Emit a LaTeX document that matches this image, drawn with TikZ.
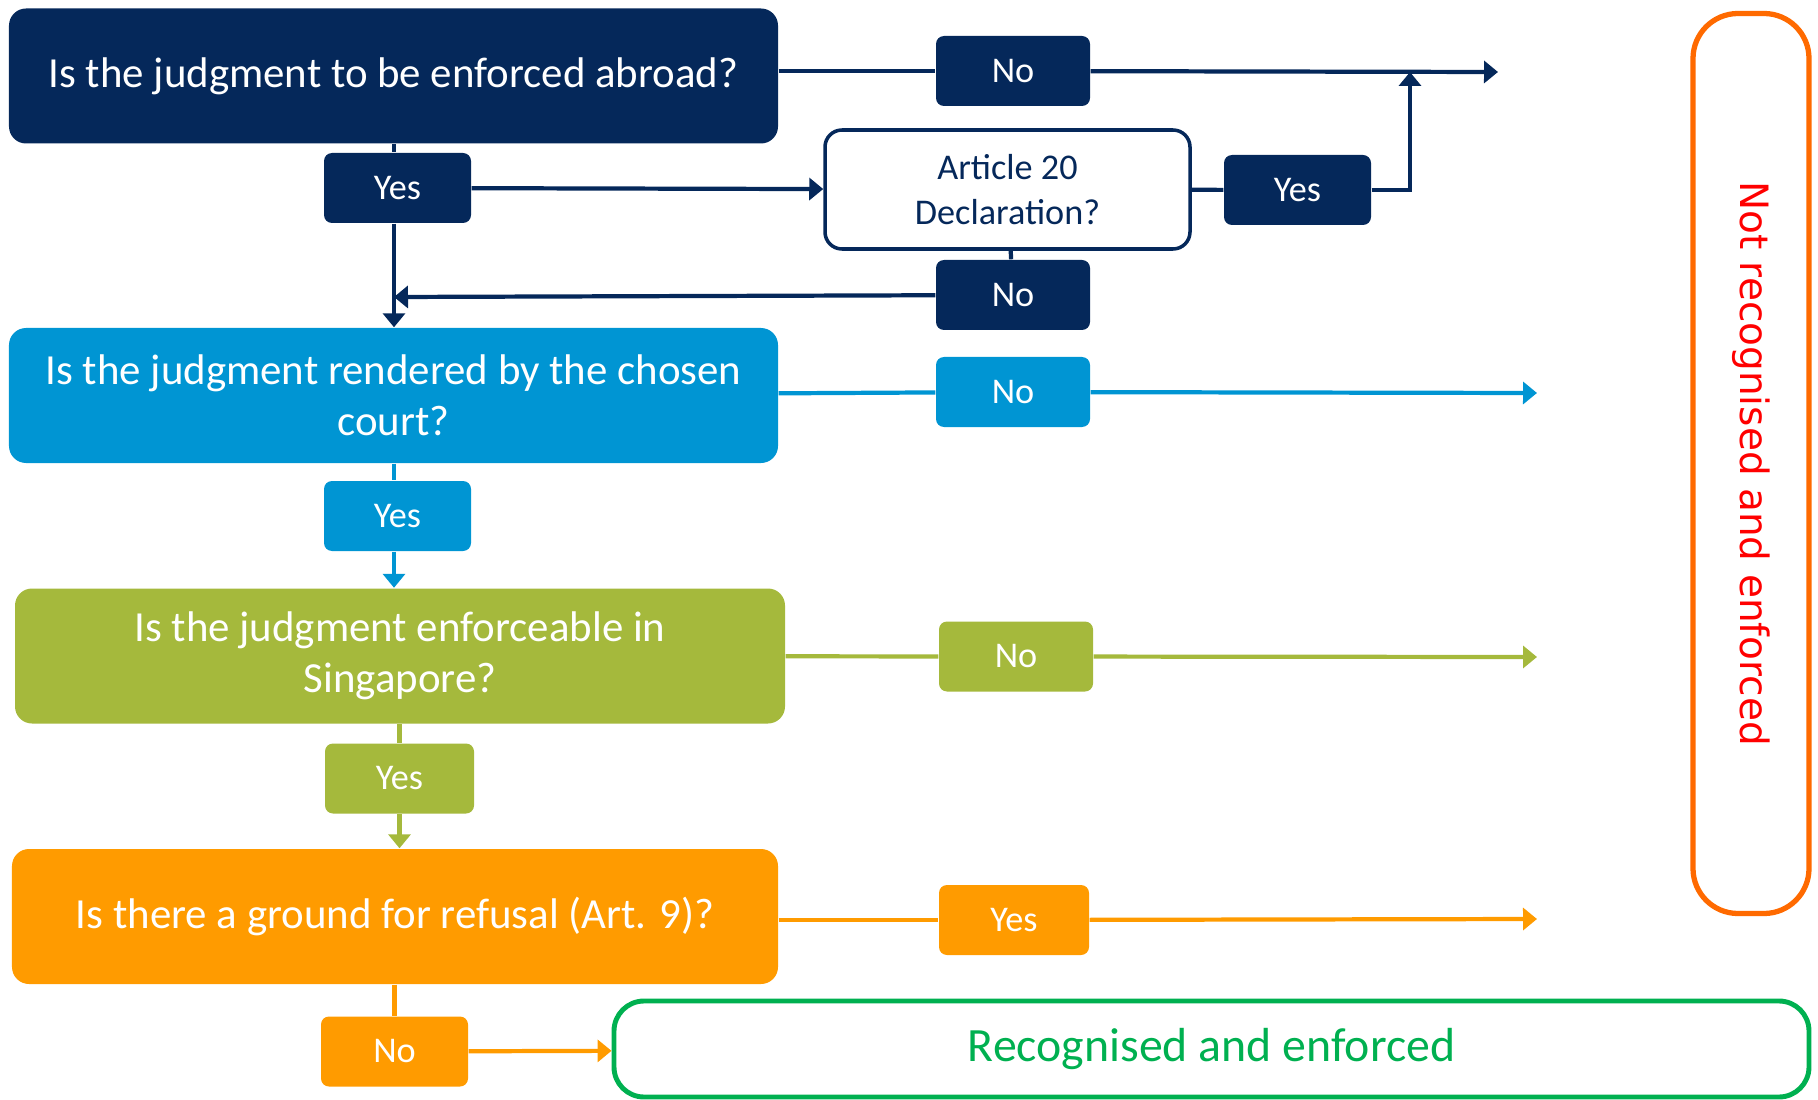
\documentclass[tikz,border=0pt]{standalone}
\usepackage{fontspec}
\setmainfont{Carlito}
\newfontfamily\dejavu{DejaVu Sans}
\usetikzlibrary{arrows.meta}
\definecolor{navy}{HTML}{05285A}
\definecolor{skyblue}{HTML}{0095D3}
\definecolor{olive}{HTML}{A5B93C}
\definecolor{amber}{HTML}{FF9B00}
\definecolor{redorange}{HTML}{FF6A00}
\definecolor{okgreen}{HTML}{00B050}
\tikzset{
  question/.style={rounded corners=0.17cm, minimum width=7.69cm, minimum height=1.35cm,
    inner sep=0pt, align=center, text=white, font=\fontsize{12.2}{14.4}\selectfont},
  answer/.style={rounded corners=0.08cm, minimum width=1.47cm, minimum height=0.7cm,
    inner sep=0pt, text=white, font=\fontsize{10.3}{12}\selectfont},
  flow/.style={line width=1.2pt, -{Triangle[length=0.14cm,width=0.22cm]}},
  link/.style={line width=1.2pt},
}
\begin{document}
\begin{tikzpicture}
    \useasboundingbox (0,0) rectangle (18.18,-11);

    \node[question, fill=navy] (abroad) at (3.935,-0.76) {Is the judgment to be enforced abroad?};
    \node[question, fill=skyblue] (chosen) at (3.935,-3.955) {Is the judgment rendered by the chosen\\court?};
    \node[question, fill=olive, minimum width=7.70cm] (enforceable) at (4.00,-6.56) {Is the judgment enforceable in\\Singapore?};
    \node[question, fill=amber, minimum width=7.66cm] (refusal) at (3.95,-9.165) {Is there a ground for refusal (Art. 9)?};

    \node[draw=navy, line width=1pt, rounded corners=0.17cm, minimum width=3.65cm, minimum height=1.19cm,
          align=center, text=navy, font=\fontsize{10.3}{13}\selectfont] (art) at (10.075,-1.895) {Article 20\\Declaration?};

    \node[answer, fill=navy, minimum width=1.54cm] (noabroad) at (10.13,-0.71) {No};
    \node[answer, fill=navy] (yesabroad) at (3.975,-1.88) {Yes};
    \node[answer, fill=navy] (yesart) at (12.975,-1.90) {Yes};
    \node[answer, fill=navy, minimum width=1.54cm] (noart) at (10.13,-2.95) {No};
    \node[answer, fill=skyblue, minimum width=1.54cm] (nochosen) at (10.13,-3.92) {No};
    \node[answer, fill=skyblue] (yeschosen) at (3.975,-5.16) {Yes};
    \node[answer, fill=olive, minimum width=1.54cm] (noenf) at (10.16,-6.565) {No};
    \node[answer, fill=olive, minimum width=1.49cm] (yesenf) at (3.995,-7.785) {Yes};
    \node[answer, fill=amber, minimum width=1.50cm] (yesref) at (10.14,-9.20) {Yes};
    \node[answer, fill=amber] (noref) at (3.945,-10.515) {No};

    \node[draw=redorange, line width=1.5pt, rounded corners=0.45cm, minimum width=1.16cm, minimum height=9.0cm] (notrec) at (17.51,-4.635) {};
    \node[rotate=-90, text=red, font=\dejavu\fontsize{11.1}{12}\selectfont] (notrectext) at (notrec.center) {Not recognised and enforced};
    \node[draw=okgreen, line width=1.4pt, rounded corners=0.3cm, minimum width=11.95cm, minimum height=0.96cm,
          text=okgreen, font=\fontsize{13.6}{15}\selectfont] (rec) at (12.115,-10.49) {Recognised and enforced};

    \coordinate (endabroad) at (14.98,-0.72);
    \coordinate (joinart) at (14.10,-0.72);
    \coordinate (backart) at (3.94,-2.97);
    \coordinate (endchosen) at (15.37,-3.93);
    \coordinate (endenf) at (15.37,-6.57);
    \coordinate (endref) at (15.37,-9.19);

    \draw[navy, link] (abroad.east |- noabroad) -- (noabroad);
    \draw[navy, flow] (noabroad) -- (endabroad);
    \draw[navy, link] (abroad.south -| backart) -- (yesabroad.north -| backart);
    \draw[navy, flow] (yesabroad.south -| backart) -- (chosen.north -| backart);
    \draw[navy, flow] (yesabroad) -- (art);
    \draw[navy, link] (art) -- (yesart);
    \draw[navy, flow] (yesart.east) -| (joinart);
    \draw[navy, link] (art) -- (noart);
    \draw[navy, flow] (noart) -- (backart);

    \draw[skyblue, link] (chosen) -- (nochosen);
    \draw[skyblue, flow] (nochosen) -- (endchosen);
    \draw[skyblue, link] (chosen.south -| backart) -- (yeschosen.north -| backart);
    \draw[skyblue, flow] (yeschosen.south -| backart) -- (enforceable.north -| backart);

    \draw[olive, link] (enforceable) -- (noenf);
    \draw[olive, flow] (noenf) -- (endenf);
    \draw[olive, link] (enforceable.south -| yesenf) -- (yesenf);
    \draw[olive, flow] (yesenf) -- (refusal.north -| yesenf);

    \draw[amber, link] (refusal.east |- yesref) -- (yesref);
    \draw[amber, flow] (yesref) -- (endref);
    \draw[amber, link] (refusal.south -| noref) -- (noref);
    \draw[amber, flow] (noref) -- (rec);
\end{tikzpicture}
\end{document}
